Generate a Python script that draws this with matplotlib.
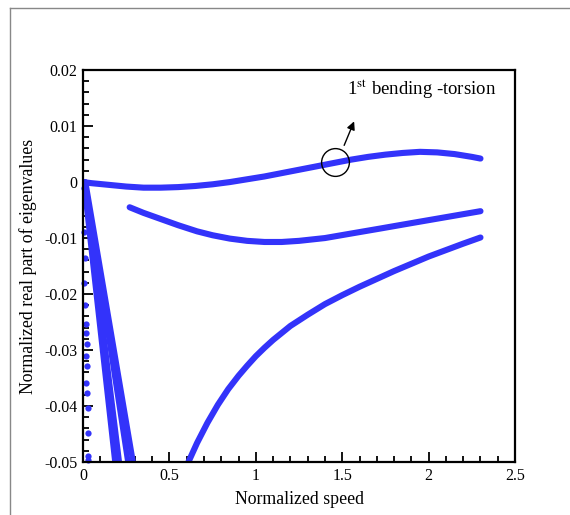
import numpy as np
import matplotlib.pyplot as plt
from matplotlib.lines import Line2D

plt.rcParams['font.family'] = ['Liberation Serif', 'DejaVu Serif']
plt.rcParams['mathtext.fontset'] = 'stix'

# 读图得到的数据（归一化速度，归一化特征值实部）
x_mode1 = [0.0, 0.05, 0.15, 0.25, 0.35, 0.45, 0.55, 0.65, 0.75, 0.85, 0.95, 1.05, 1.15,
           1.25, 1.35, 1.45, 1.55, 1.65, 1.75, 1.85, 1.95, 2.05, 2.15, 2.25, 2.3]
y_mode1 = [0.0, -0.0002, -0.0005, -0.0008, -0.001, -0.001, -0.0009, -0.0007, -0.0004,
           0.0, 0.0005, 0.001, 0.0016, 0.0022, 0.0028, 0.0034, 0.004, 0.0045, 0.0049,
           0.0052, 0.0054, 0.0053, 0.005, 0.0045, 0.0042]

x_mode2 = [0.27, 0.35, 0.45, 0.55, 0.66, 0.75, 0.85, 0.95, 1.05, 1.15, 1.25, 1.4, 1.55,
           1.72, 1.85, 2.0, 2.15, 2.3]
y_mode2 = [-0.0045, -0.0055, -0.0066, -0.0077, -0.0088, -0.0095, -0.0101, -0.0105,
           -0.0107, -0.0107, -0.0105, -0.01, -0.0092, -0.0083, -0.0076, -0.0068,
           -0.006, -0.0052]

x_mode3 = [0.61, 0.66, 0.72, 0.78, 0.84, 0.9, 0.95, 1.0, 1.05, 1.1, 1.2, 1.3, 1.4, 1.5,
           1.6, 1.8, 2.0, 2.2, 2.3]
y_mode3 = [-0.05, -0.0466, -0.043, -0.0398, -0.037, -0.0346, -0.0328, -0.0311, -0.0296,
           -0.0282, -0.0257, -0.0237, -0.0218, -0.0202, -0.0187, -0.0159, -0.0133,
           -0.011, -0.0099]

# 左侧几条陡降的分支
steep_x = [[0.005, 0.185], [0.01, 0.21], [0.012, 0.26], [0.015, 0.29]]
steep_y = [[0.0, -0.05], [0.0, -0.05], [0.0, -0.05], [0.0, -0.05]]

# 纵轴附近的散点
dots_x = [0.005, 0.01, 0.005, 0.01, 0.005, 0.01, 0.02, 0.02, 0.025, 0.02, 0.025,
          0.02, 0.025, 0.03, 0.03, 0.03, 0.03]
dots_y = [-0.001, -0.004, -0.009, -0.0135, -0.018, -0.022, -0.0254, -0.027, -0.029,
          -0.0311, -0.0329, -0.0358, -0.0376, -0.0403, -0.0448, -0.049, -0.0497]

xticks = [0, 0.5, 1, 1.5, 2, 2.5]
xtick_labels = ['0', '0.5', '1', '1.5', '2', '2.5']
yticks = [0.02, 0.01, 0, -0.01, -0.02, -0.03, -0.04, -0.05]
ytick_labels = ['0.02', '0.01', '0', '-0.01', '-0.02', '-0.03', '-0.04', '-0.05']

blue = '#3333fa'

fig = plt.figure(figsize=(5.7, 5.15), dpi=100)
ax = fig.add_axes([0.1456, 0.1029, 0.758, 0.761])

lw = 4.4
for xs, ys in [(x_mode1, y_mode1), (x_mode2, y_mode2), (x_mode3, y_mode3)]:
    ax.plot(xs, ys, color=blue, lw=lw, solid_capstyle='round', solid_joinstyle='round')
for xs, ys in zip(steep_x, steep_y):
    ax.plot(xs, ys, color=blue, lw=4.0, solid_capstyle='round')
ax.plot(dots_x, dots_y, 'o', color=blue, ms=4.5, mec='none', clip_on=False)

# 标注：第一弯扭模态
ax.plot([1.46], [0.0036], 'o', mfc='none', mec='black', ms=20, mew=1.0)
ax.annotate('', xy=(1.575, 0.0113), xytext=(1.505, 0.0061),
            arrowprops=dict(arrowstyle='-|>', color='black', lw=1.0, mutation_scale=12))
ax.text(1.53, 0.0166, r'1$^{\mathrm{st}}$ bending -torsion', fontsize=13.5, va='center', ha='left')

ax.set_xlim(0, 2.5)
ax.set_ylim(-0.05, 0.02)
ax.set_xticks(xticks)
ax.set_xticklabels(xtick_labels)
ax.set_yticks(yticks)
ax.set_yticklabels(ytick_labels)
ax.set_xticks(np.arange(0, 2.5, 0.1), minor=True)
ax.set_yticks(np.arange(-0.05, 0.02, 0.002), minor=True)
ax.tick_params(which='both', direction='in', top=False, right=False, labelsize=11.5, width=1.3)
ax.tick_params(which='major', length=7, pad=4)
ax.tick_params(which='minor', length=4)
for s in ax.spines.values():
    s.set_linewidth(1.6)

ax.set_xlabel('Normalized speed', fontsize=12.8, labelpad=5)
ax.set_ylabel('Normalized real part of eigenvalues', fontsize=12.8, labelpad=5)

# 外框（只露出左边和上边）
fig.add_artist(Line2D([0.0167, 0.0167], [0, 0.9845], color='#888888', lw=1.0))
fig.add_artist(Line2D([0.0167, 1], [0.9845, 0.9845], color='#888888', lw=1.0))

fig.savefig('out.png', dpi=100)
